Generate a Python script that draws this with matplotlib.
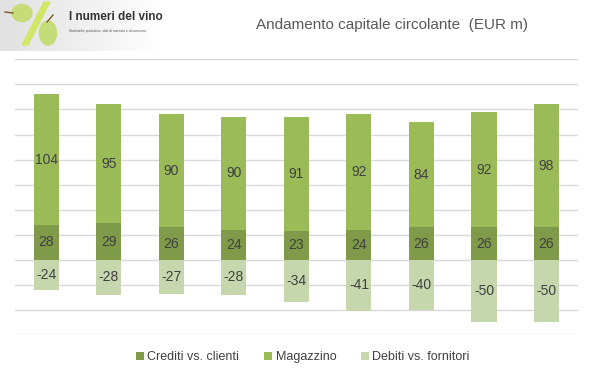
import matplotlib
matplotlib.use("Agg")
import matplotlib.pyplot as plt
import numpy as np
from matplotlib.patches import Ellipse, Polygon

categories = ["1", "2", "3", "4", "5", "6", "7", "8", "9"]
crediti = [28, 29, 26, 24, 23, 24, 26, 26, 26]
magazzino = [104, 95, 90, 90, 91, 92, 84, 92, 98]
debiti = [-24, -28, -27, -28, -34, -41, -40, -50, -50]
series_names = ["Crediti vs. clienti", "Magazzino", "Debiti vs. fornitori"]
colors = ["#7f9a48", "#9bbb59", "#c6d7ad"]

FONT = ["Liberation Sans", "DejaVu Sans"]
plt.rcParams['font.family'] = FONT

fig = plt.figure(figsize=(6.0, 3.78), dpi=100)
ax = fig.add_axes([0.025, 0.1138, 0.938, 0.7292])
x = np.arange(len(categories))
w = 0.4
b1 = ax.bar(x, crediti, w, color=colors[0], label=series_names[0], zorder=3)
b2 = ax.bar(x, magazzino, w, bottom=crediti, color=colors[1], label=series_names[1], zorder=3)
b3 = ax.bar(x, debiti, w, color=colors[2], label=series_names[2], zorder=3)

for vals, bottoms in [(crediti, [0]*9), (magazzino, crediti), (debiti, [0]*9)]:
    for xi, v, b in zip(x, vals, bottoms):
        ax.text(xi, b + v / 2, f"{v}", ha="center", va="center", fontsize=10,
                color="#404040", zorder=4)

ax.set_xlim(-0.5, len(categories) - 0.5)
ax.set_ylim(-60, 160)
ax.set_yticks(np.arange(-60, 161, 20))
ax.grid(axis="y", color="#d9d9d9", linewidth=1.0, zorder=0)
ax.tick_params(left=False, bottom=False, labelleft=False, labelbottom=False)
for s in ax.spines.values():
    s.set_visible(False)

fig.text(0.653, 0.933, "Andamento capitale circolante  (EUR m)", ha="center", va="center",
         fontsize=11, color="#595959")

leg = fig.legend(handles=[b1, b2, b3], labels=series_names, loc="center",
                 bbox_to_anchor=(0.505, 0.055), ncol=3, frameon=False, fontsize=9,
                 handlelength=0.6, handleheight=0.6, handletextpad=0.3, columnspacing=2.0)
for t in leg.get_texts():
    t.set_color("#404040")

# logo
lax = fig.add_axes([0, 0.865, 0.27, 0.135])
lax.set_xlim(0, 162)
lax.set_ylim(0, 51)
lax.axis("off")
grad = np.linspace(0.88, 1.0, 256).reshape(1, -1)
lax.imshow(np.dstack([grad, grad, grad]), extent=[0, 162, 0, 51], aspect="auto", zorder=0)
lax.add_patch(Polygon([[22, 6], [28, 6], [50, 49], [44, 49]], closed=True, color="#d2e66a", zorder=1))
lax.add_patch(Ellipse((22, 38), 20, 17, color="#c6dc78", zorder=2))
lax.add_patch(Ellipse((48, 18), 17, 24, color="#c6dc78", zorder=2))
lax.plot([5, 13], [39, 38], color="#7a5a2a", lw=1, zorder=3)
lax.plot([47, 53], [29, 36], color="#7a5a2a", lw=1, zorder=3)
lax.text(69, 34, "I numeri del vino", fontsize=8.5, fontweight="bold", color="#333333",
         va="center", ha="left", zorder=4)
lax.text(69, 20, "Statistiche produttive, dati di mercato e di consumo,", fontsize=2.4,
         color="#555555", va="center", ha="left", zorder=4)

fig.savefig("out.png", dpi=100)
